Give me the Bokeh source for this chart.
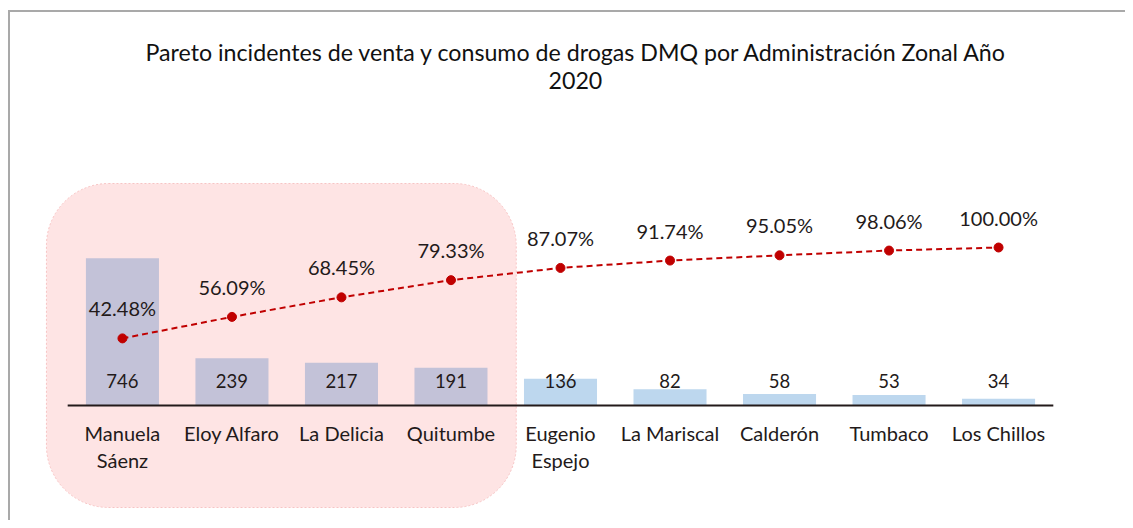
from bokeh.plotting import figure
from bokeh.models import FactorRange, Range1d, Title
from bokeh.core.properties import value
from bokeh.embed import file_html
from bokeh.resources import INLINE

# ---------------- data ----------------
categories = ["Manuela Sáenz", "Eloy Alfaro", "La Delicia", "Quitumbe",
              "Eugenio Espejo", "La Mariscal", "Calderón", "Tumbaco", "Los Chillos"]
category_labels = ["Manuela\nSáenz", "Eloy Alfaro", "La Delicia", "Quitumbe",
                   "Eugenio\nEspejo", "La Mariscal", "Calderón", "Tumbaco", "Los Chillos"]
incidents = [746, 239, 217, 191, 136, 82, 58, 53, 34]
cumulative_pct = [42.48, 56.09, 68.45, 79.33, 87.07, 91.74, 95.05, 98.06, 100.00]
highlighted = categories[:4]
title_line1 = "Pareto incidentes de venta y consumo de drogas DMQ por Administración Zonal Año"
title_line2 = "2020"

# ---------------- layout ----------------
W, H = 1125, 520
FRAME_TOP = 90          # px from figure top
FRAME_LEFT = 38
ZERO_PX = 405           # px from figure top where value 0 sits
AXMAX_PX = 247          # px where primary max / 100 % sits
PRIMARY_MAX = 800
SECONDARY_MAX = 100

def rng(vmax, top_px, bottom_px):
    per_px = vmax / (ZERO_PX - AXMAX_PX)
    return Range1d(-(bottom_px - ZERO_PX) * per_px, (ZERO_PX - top_px) * per_px)

FONT = value("Lato")
TXT = "#231a1a"

p = figure(width=W, height=H,
           x_range=FactorRange(*categories, range_padding=0.2665, range_padding_units="absolute"),
           y_range=rng(PRIMARY_MAX, FRAME_TOP, H),
           x_axis_location=None, y_axis_location=None,
           title=None, output_backend="svg", toolbar_location=None,
           min_border_left=FRAME_LEFT, min_border_right=43, min_border_top=FRAME_TOP,
           min_border_bottom=0)
p.extra_y_ranges = {"pct": rng(SECONDARY_MAX, FRAME_TOP, H)}
p.grid.visible = False
p.outline_line_color = None
p.border_fill_color = None
p.background_fill_color = None
p.styles = {"background": "linear-gradient(#a9a9a9, #a9a9a9) 8px 10px / 2px 100% no-repeat, "
                          "linear-gradient(#a9a9a9, #a9a9a9) 8px 10px / 100% 2px no-repeat"}

per_px = PRIMARY_MAX / (ZERO_PX - AXMAX_PX)
# highlight box for the vital few
p.quad(left=[(highlighted[0], -0.694)], right=[(highlighted[-1], 0.596)],
       top=[(ZERO_PX - 183) * per_px], bottom=[-(507 - ZERO_PX) * per_px],
       fill_color="#fee4e4", line_color="#f7c4c4", line_dash="2 2", line_width=1,
       border_radius=62)

colors = ["#c3c2d8" if c in highlighted else "#bdd7ee" for c in categories]
p.vbar(x=categories, top=incidents, width=0.667, fill_color=colors, line_color=None)

# baseline
p.segment(x0=[(categories[0], -0.5)], y0=[0], x1=[(categories[-1], 0.5)], y1=[0],
          line_color=TXT, line_width=2)

# bar values
p.text(x=categories, y=[0] * len(categories), text=[str(v) for v in incidents],
       y_offset=-25, text_align="center", text_baseline="middle",
       text_font=FONT, text_font_size="18.5px", text_color=TXT)

# cumulative line
p.line(x=categories, y=cumulative_pct, y_range_name="pct",
       line_color="#c00000", line_width=2, line_dash="6 4")
p.scatter(x=categories, y=cumulative_pct, y_range_name="pct",
          size=9, fill_color="#c00000", line_color="#c00000")
p.text(x=categories, y=cumulative_pct, y_range_name="pct",
       text=[f"{v:.2f}%" for v in cumulative_pct],
       y_offset=-30, text_align="center", text_baseline="middle",
       text_font=FONT, text_font_size="20px", text_color=TXT)

# category labels
p.text(x=categories, y=[0] * len(categories), text=category_labels,
       y_offset=15, text_align="center", text_baseline="top", text_line_height=1.15,
       text_font=FONT, text_font_size="20px", text_color=TXT)

t2 = Title(text=title_line2, align="left", offset=510, standoff=4,
           text_font="Lato", text_font_size="23.2px", text_font_style="normal", text_color="#111111")
t1 = Title(text=title_line1, align="left", offset=107, standoff=3,
           text_font="Lato", text_font_size="23.2px", text_font_style="normal", text_color="#111111")
p.add_layout(t2, "above")
p.add_layout(t1, "above")

open("out.html", "w").write(file_html(p, INLINE))
